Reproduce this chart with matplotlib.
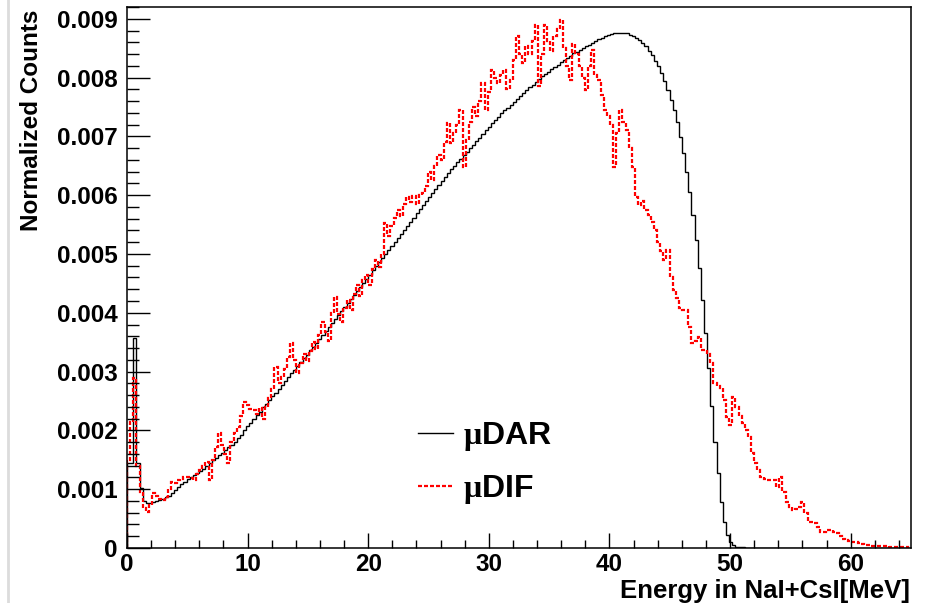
import numpy as np
import matplotlib
matplotlib.use("Agg")
import matplotlib.pyplot as plt
from matplotlib.lines import Line2D
from matplotlib.ticker import FixedLocator, FixedFormatter, MultipleLocator

# ---------------- data ----------------
x_min, x_max = 0.0, 65.0
n_bins = 250
value_unit = 1e-5  # values below are in units of 1e-5

# muon decay at rest (black, solid)
dar = [
    145, 145, 357, 145, 102, 80, 76, 77, 78, 80,
    82, 84, 86, 89, 93, 98, 103, 108, 113, 117,
    121, 124, 127, 131, 135, 139, 144, 149, 153, 158,
    162, 166, 171, 176, 181, 187, 193, 200, 207, 213,
    219, 226, 232, 239, 245, 251, 258, 264, 271, 278,
    284, 290, 297, 303, 310, 316, 323, 329, 336, 342,
    349, 355, 362, 369, 376, 382, 389, 396, 403, 410,
    416, 423, 430, 437, 444, 451, 458, 465, 472, 479,
    486, 493, 500, 507, 514, 520, 527, 534, 541, 548,
    555, 562, 569, 576, 583, 590, 597, 603, 610, 617,
    624, 631, 638, 644, 650, 656, 662, 668, 674, 680,
    686, 692, 698, 704, 710, 716, 722, 728, 733, 739,
    744, 749, 754, 759, 764, 769, 774, 779, 784, 788,
    793, 797, 802, 806, 810, 814, 818, 822, 826, 830,
    834, 837, 841, 844, 847, 850, 853, 856, 859, 862,
    865, 867, 870, 872, 874, 875, 876, 876, 876, 875,
    873, 871, 868, 864, 859, 853, 846, 838, 829, 819,
    808, 795, 779, 762, 745, 724, 699, 672, 639, 605,
    566, 524, 476, 422, 366, 306, 241, 181, 127, 79,
    45, 22, 11, 5, 2, 1, 1, 0.5,
]
dar = dar + [0] * (n_bins - len(dar))

# muon decay in flight (red, dashed)
dif = [
    150, 215, 289, 140, 95, 68, 62, 73, 93, 88,
    84, 82, 87, 100, 113, 110, 116, 118, 120, 121,
    119, 116, 125, 133, 140, 147, 116, 150, 172, 195,
    175, 160, 144, 180, 195, 206, 225, 249, 243, 236,
    235, 228, 238, 220, 240, 255, 270, 308, 280, 290,
    305, 325, 348, 320, 297, 315, 330, 318, 335, 350,
    338, 362, 385, 368, 352, 400, 427, 398, 385, 408,
    422, 405, 432, 448, 428, 455, 465, 448, 475, 490,
    478, 500, 552, 530, 548, 562, 575, 565, 585, 597,
    588, 598, 585, 600, 603, 615, 640, 625, 650, 668,
    660, 690, 722, 688, 705, 720, 745, 648, 694, 725,
    750, 735, 760, 790, 745, 775, 813, 800, 790, 805,
    813, 780, 796, 830, 870, 840, 825, 853, 840, 862,
    889, 785, 840, 889, 862, 845, 870, 882, 898, 850,
    820, 796, 857, 840, 819, 800, 779, 820, 847, 805,
    796, 770, 745, 735, 720, 648, 705, 745, 725, 711,
    680, 648, 597, 583, 590, 575, 566, 555, 540, 520,
    505, 490, 507, 461, 439, 425, 408, 405, 405, 376,
    348, 352, 359, 337, 337, 330, 314, 280, 275, 272,
    252, 223, 209, 257, 240, 225, 212, 200, 189, 161,
    144, 132, 121, 118, 116, 116, 116, 104, 121, 95,
    79, 70, 65, 66, 70, 79, 60, 45, 44, 42,
    35, 28, 28, 30, 30, 28, 25, 20, 16, 14,
    12, 11, 11, 9, 7, 5, 5, 4, 3, 3,
    3, 3, 3, 2, 2, 2, 1, 1, 1, 0,
]

series_labels = [r"$\mu$DAR", r"$\mu$DIF"]
xticks = [0, 10, 20, 30, 40, 50, 60]
xtick_labels = ["0", "10", "20", "30", "40", "50", "60"]
yticks = [0, 0.001, 0.002, 0.003, 0.004, 0.005, 0.006, 0.007, 0.008, 0.009]
ytick_labels = ["0", "0.001", "0.002", "0.003", "0.004", "0.005",
                "0.006", "0.007", "0.008", "0.009"]
y_max = 0.0092
xlabel = "Energy in NaI+CsI[MeV]"
ylabel = "Normalized Counts"

# ---------------- style ----------------
plt.rcParams["font.family"] = ["Liberation Sans", "DejaVu Sans"]
plt.rcParams["font.weight"] = "bold"
plt.rcParams["mathtext.fontset"] = "custom"
plt.rcParams["mathtext.it"] = "Liberation Serif"
plt.rcParams["mathtext.rm"] = "Liberation Sans:bold"

W, H = 931, 603
fig = plt.figure(figsize=(W / 100, H / 100), dpi=100)
ax = fig.add_axes([127 / W, 1 - 548 / H, 784 / W, 541 / H])

edges = np.linspace(x_min, x_max, n_bins + 1)
dash = (0, (1.8, 0.9))
ax.stairs(np.array(dar) * value_unit, edges, color="black", lw=1.0)
ax.stairs(np.array(dif) * value_unit, edges, color="red", lw=1.6, linestyle=dash)

ax.set_xlim(x_min, x_max)
ax.set_ylim(0, y_max)

ax.xaxis.set_major_locator(FixedLocator(xticks))
ax.xaxis.set_major_formatter(FixedFormatter(xtick_labels))
ax.xaxis.set_minor_locator(MultipleLocator(2))
ax.yaxis.set_major_locator(FixedLocator(yticks))
ax.yaxis.set_major_formatter(FixedFormatter(ytick_labels))
ax.yaxis.set_minor_locator(MultipleLocator(0.0002))

ax.tick_params(axis="y", which="major", direction="in", length=16.5, width=1.0,
               pad=6.5, labelsize=17.5)
ax.tick_params(axis="y", which="minor", direction="in", length=8.6, width=1.0)
ax.tick_params(axis="x", which="major", direction="in", length=10.8, width=1.0,
               pad=3.6, labelsize=17.5)
ax.tick_params(axis="x", which="minor", direction="in", length=5.8, width=1.0)
for lab in ax.get_xticklabels() + ax.get_yticklabels():
    lab.set_fontweight("bold")
for sp in ax.spines.values():
    sp.set_linewidth(1.1)
    sp.set_color("black")

fig.text(32 / W, 1 - 10 / H, ylabel, rotation=90, ha="center", va="top",
         fontsize=17.5, fontweight="bold")
fig.text(910 / W, 1 - 598 / H, xlabel, ha="right", va="baseline",
         fontsize=18.5, fontweight="bold")

handles = [Line2D([], [], color="black", lw=1.0),
           Line2D([], [], color="red", lw=1.6, linestyle=dash)]
ax.legend(handles, series_labels, loc="upper left", bbox_to_anchor=(0.371, 0.236),
          frameon=False, prop={"family": "Liberation Sans", "weight": "bold", "size": 23},
          handlelength=1.1, handletextpad=0.3, labelspacing=0.62,
          borderpad=0, borderaxespad=0)

fig.add_artist(Line2D([8 / W, 8 / W], [0, 1], transform=fig.transFigure,
                      color="#dcdcdc", lw=2))

fig.savefig("out.png", dpi=100)
